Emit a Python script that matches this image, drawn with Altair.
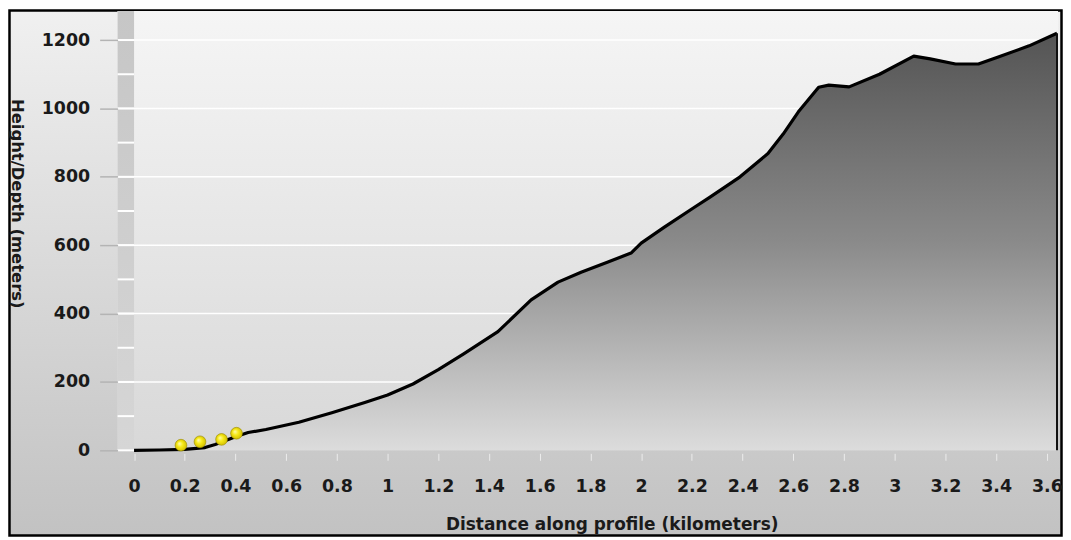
import altair as alt
import pandas as pd

# ---- data ----
dist = [0, 0.1, 0.2, 0.28, 0.32, 0.4, 0.45, 0.52, 0.65, 0.78, 0.91, 1.0, 1.1, 1.2, 1.3,
        1.435, 1.566, 1.672, 1.763, 1.869, 1.96, 2.0, 2.09, 2.21, 2.27, 2.39, 2.5, 2.56,
        2.62, 2.7, 2.74, 2.82, 2.94, 3.075, 3.14, 3.24, 3.33, 3.4, 3.53, 3.64]
height = [0, 1, 3, 8, 17, 40, 52, 61, 82, 110, 140, 162, 194, 236, 282,
          347, 440, 492, 521, 551, 577, 606, 652, 711, 740, 800, 868, 925,
          990, 1062, 1068, 1063, 1100, 1153, 1145, 1130, 1130, 1148, 1183, 1220]
dot_dist = [0.185, 0.26, 0.345, 0.404]
dot_height = [15, 25, 32, 50]
x_ticks = [0, 0.2, 0.4, 0.6, 0.8, 1, 1.2, 1.4, 1.6, 1.8, 2, 2.2, 2.4, 2.6, 2.8, 3, 3.2, 3.4, 3.6]
y_ticks = [0, 200, 400, 600, 800, 1000, 1200]
grid_lines = [200, 400, 600, 800, 1000, 1200]
strip_marks = [0, 100, 200, 300, 400, 500, 600, 700, 800, 900, 1000, 1100, 1200]
x_min, x_max = -0.065, 3.644

W, H = 944, 441
FONT = "DejaVu Sans"

profile = pd.DataFrame({"d": dist, "h": height})
dots = pd.DataFrame({"d": dot_dist, "h": dot_height})
end = pd.DataFrame({"d": [dist[-1]], "h": [height[-1]], "z": [0]})
grid = pd.DataFrame({"g": grid_lines})
strip = pd.DataFrame({"g": strip_marks, "s0": [x_min] * len(strip_marks), "s1": [0] * len(strip_marks)})
strip_band = pd.DataFrame({"s0": [x_min], "s1": [0]})
one = pd.DataFrame({"a": [0]})

xs = alt.Scale(domain=[x_min, x_max], nice=False, zero=False)
ys = alt.Scale(domain=[0, 1285], nice=False)

X_AX = alt.Axis(
    values=x_ticks, format=".1~f", grid=False, domain=False,
    tickColor="#ececec", tickSize=7, tickWidth=1, offset=3,
    labelFont=FONT, labelFontSize=17.5, labelFontWeight="bold", labelColor="#1a1a1a", labelPadding=17,
    title="Distance along profile (kilometers)", titleFont=FONT, titleFontSize=17,
    titleFontWeight="bold", titleColor="#1a1a1a", titleX=496, titleY=76,
    titleAlign="center", titleBaseline="alphabetic", zindex=2,
)
Y_AX = alt.Axis(
    values=y_ticks, format="d", grid=False, domain=False,
    tickColor="#b4b4b4", tickSize=18, tickWidth=1.5,
    labelFont=FONT, labelFontSize=17.5, labelFontWeight="bold", labelColor="#1a1a1a", labelPadding=10,
    title="Height/Depth (meters)", titleFont=FONT, titleFontSize=16.5,
    titleFontWeight="bold", titleColor="#1a1a1a", titleAngle=90,
    titleX=-101, titleY=193, titleAlign="center", titleBaseline="middle", zindex=2,
)


def vgrad(c0, c1, mid=None):
    stops = [{"offset": 0, "color": c0}]
    if mid:
        stops.append({"offset": 0.5, "color": mid})
    stops.append({"offset": 1, "color": c1})
    return {"gradient": "linear", "x1": 0, "y1": 0, "x2": 0, "y2": 1, "stops": stops}


def X(f):
    return alt.X(f, scale=xs, axis=X_AX)


def Y(f):
    return alt.Y(f, scale=ys, axis=Y_AX)


bg = alt.Chart(one).mark_rect(
    fill=vgrad("#f0f0f0", "#c2c2c2"), stroke="#000000", strokeWidth=2.5
).encode(x=alt.value(-108.5), x2=alt.value(W + 3.5), y=alt.value(-0.5), y2=alt.value(H + 85.5))

plotbg = alt.Chart(one).mark_rect(fill=vgrad("#f5f5f5", "#d8d8d8")).encode(
    x=alt.value(0), x2=alt.value(W), y=alt.value(0), y2=alt.value(H)
)

strip_rect = alt.Chart(strip_band).mark_rect(fill=vgrad("#c6c6c6", "#d6d6d6")).encode(
    x=X("s0:Q"), x2="s1:Q", y=alt.value(0), y2=alt.value(H)
)

strip_ticks = alt.Chart(strip).mark_rule(color="#ffffff", strokeWidth=2).encode(
    y=Y("g:Q"), x=X("s0:Q"), x2="s1:Q"
)

gridr = alt.Chart(grid).mark_rule(color="#ffffff", strokeWidth=1.5).encode(
    y=Y("g:Q"), x=alt.value(0), x2=alt.value(W)
)

area = alt.Chart(profile).mark_area(
    fill=vgrad("#545454", "#dcdcdc", "#8a8a8a")
).encode(x=X("d:Q"), y=Y("h:Q"))

line = alt.Chart(profile).mark_line(color="#000000", strokeWidth=3.2, strokeJoin="round").encode(
    x=X("d:Q"), y=Y("h:Q")
)

end_rule = alt.Chart(end).mark_rule(color="#111111", strokeWidth=2).encode(
    x=X("d:Q"), y=Y("h:Q"), y2="z:Q"
)

ball = {"gradient": "radial", "x1": 0.35, "y1": 0.35, "r1": 0, "x2": 0.5, "y2": 0.5, "r2": 0.55,
        "stops": [{"offset": 0, "color": "#fffcb8"}, {"offset": 0.45, "color": "#f7ea18"},
                  {"offset": 1, "color": "#cdb900"}]}
pts = alt.Chart(dots).mark_point(filled=True, fill=ball, stroke="#9a8c00", strokeWidth=0.6,
                                 size=140, opacity=1, shape="circle").encode(
    x=X("d:Q"), y=Y("h:Q")
)

chart = alt.layer(bg, plotbg, strip_rect, strip_ticks, gridr, area, line, end_rule, pts).properties(
    width=W, height=H,
    padding={"left": 110, "top": 2, "right": 5, "bottom": 87},
    autosize=alt.AutoSizeParams(type="none"),
    background="#ffffff",
).configure_view(stroke=None)

chart.save("out.html", embed_options={"renderer": "svg", "actions": False})
